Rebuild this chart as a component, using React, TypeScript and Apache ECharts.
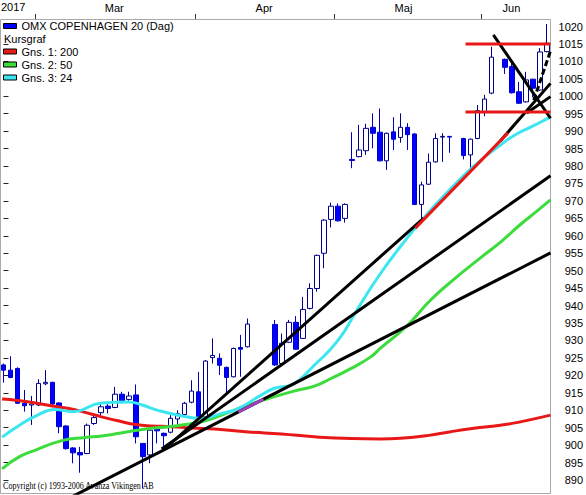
import React, { useEffect, useRef } from 'react';
import * as echarts from 'echarts';

// OHLC per trading slot: [open, close, low, high]; null = no trading
const candles: (number[] | null)[] = [
  [923.0, 921.5, 917.9, 923.4],
  [921.5, 919.4, 919.2, 925.5],
  [922.0, 912.0, 911.8, 922.3],
  [912.0, 911.3, 909.6, 915.8],
  [911.5, 911.8, 905.8, 914.1],
  [911.5, 917.7, 911.2, 918.9],
  [917.6, 918.0, 917.2, 921.5],
  [918.0, 911.8, 911.5, 918.2],
  [912.1, 905.3, 903.4, 912.3],
  [905.5, 899.0, 898.7, 905.7],
  [899.2, 897.8, 894.8, 899.4],
  [897.9, 897.2, 892.1, 899.5],
  [897.6, 905.7, 897.4, 906.2],
  [906.2, 907.9, 905.8, 909.1],
  [909.3, 911.0, 908.6, 912.0],
  [911.2, 910.5, 909.1, 912.4],
  [910.8, 914.6, 910.6, 916.7],
  [914.6, 912.7, 912.0, 915.3],
  [913.1, 914.1, 912.4, 915.3],
  [914.4, 902.4, 900.5, 917.4],
  [900.5, 896.7, 887.6, 900.6],
  [897.2, 904.3, 894.8, 904.5],
  [904.8, 904.1, 900.5, 905.0],
  [903.4, 902.7, 899.1, 903.6],
  [903.7, 907.7, 903.4, 908.6],
  [907.5, 909.0, 906.0, 910.0],
  [908.8, 912.0, 908.6, 912.4],
  [912.3, 915.5, 912.0, 918.6],
  [915.3, 908.1, 907.9, 921.0],
  [908.1, 924.1, 907.8, 924.4],
  [925.1, 925.7, 923.4, 930.6],
  [924.9, 922.9, 920.1, 926.3],
  [922.3, 919.4, 914.8, 922.5],
  [919.6, 927.7, 919.4, 928.0],
  [928.0, 927.5, 919.6, 931.6],
  [928.2, 934.7, 928.0, 936.3],
  null,
  null,
  null,
  [934.6, 923.0, 922.7, 935.9],
  [923.4, 929.2, 922.9, 932.0],
  [929.5, 935.2, 929.3, 935.9],
  [935.2, 927.5, 927.3, 937.0],
  [930.6, 938.9, 930.4, 942.5],
  [939.2, 944.9, 938.9, 946.4],
  [944.9, 954.4, 944.0, 954.6],
  [955.0, 964.5, 950.7, 964.8],
  [964.7, 968.5, 962.4, 969.5],
  [968.5, 964.3, 964.1, 969.3],
  [965.0, 969.0, 963.8, 969.3],
  [981.9, 981.6, 979.4, 989.7],
  [982.7, 984.6, 982.5, 991.8],
  [984.4, 990.8, 983.2, 992.1],
  [991.1, 989.4, 985.1, 995.1],
  [989.7, 981.5, 981.3, 996.5],
  [981.5, 989.4, 978.9, 989.6],
  [989.8, 987.7, 984.6, 994.0],
  [988.2, 991.1, 986.7, 995.1],
  [991.1, 989.0, 984.6, 992.3],
  [989.2, 969.0, 968.8, 989.4],
  [969.0, 974.6, 965.0, 975.5],
  [974.8, 981.1, 974.6, 983.6],
  [981.2, 987.9, 981.0, 989.4],
  [988.3, 988.5, 981.2, 989.4],
  [988.5, 988.3, 983.8, 988.6],
  null,
  [987.9, 983.0, 981.9, 988.1],
  [983.2, 987.7, 978.9, 987.9],
  [987.9, 995.9, 987.7, 997.5],
  [995.5, 999.2, 994.3, 1000.4],
  [1000.9, 1011.2, 1000.6, 1014.2],
  null,
  [1010.6, 1008.3, 1006.4, 1010.8],
  [1008.5, 1001.0, 1000.8, 1009.9],
  [1001.3, 998.0, 997.8, 1004.1],
  [998.4, 1004.7, 998.2, 1007.0],
  [1004.9, 1002.3, 999.7, 1005.0],
  [1001.8, 1012.7, 1001.6, 1013.8],
  [1012.8, 1015.2, 1012.6, 1020.7],
];

const slots: string[] = candles.map((_, i) => String(i));

// Moving averages: [slot position, value]
const ma200: number[][] = [
  [-0.2, 913.2], [2, 912.8], [4.6, 912.1], [7, 911.2], [9.4, 910.5], [11.3, 909.6],
  [14.1, 908.1], [16.6, 906.9], [19, 905.9], [21.3, 905.5], [24.1, 905.3], [27, 904.9],
  [30.3, 904.6], [35.1, 903.8], [39.9, 903.2], [44.6, 902.4], [49.9, 901.9], [54, 901.8],
  [57, 902.0], [61, 902.8], [64, 903.8], [67, 904.7], [71.3, 905.7], [74, 906.6], [78.5, 908.6],
];
const ma50: number[][] = [
  [-0.2, 893.2], [2.3, 896.7], [4.6, 898.6], [8.4, 901.3], [11.7, 902.2], [14.1, 902.6],
  [16.6, 903.4], [19.9, 904.5], [23.7, 905.3], [25.6, 905.8], [28.4, 906.7], [31.3, 908.6],
  [35.1, 911.5], [38.9, 913.9], [42.3, 915.8], [44.6, 916.9], [47, 919.1], [49.9, 922.0],
  [52.7, 925.3], [54.1, 927.8], [57.8, 934.0], [61.3, 941.6], [64.8, 947.8], [68.4, 953.6],
  [71.5, 958.5], [74.1, 963.1], [76.5, 967.0], [78.5, 970.3],
];
const ma24: number[][] = [
  [-0.2, 902.3], [2.3, 905.7], [4.6, 908.3], [7.4, 910.2], [9.9, 909.6], [14.1, 912.1],
  [18, 912.4], [19.9, 911.5], [22.3, 909.9], [25.1, 908.6], [28.4, 907.7], [31.3, 909.1],
  [33.7, 910.5], [36.6, 913.9], [38.9, 916.3], [41.3, 917.2], [42.7, 919.1], [44.6, 922.9],
  [46.6, 926.8], [48.4, 931.1], [49.9, 935.9], [51.3, 940.6], [54.1, 949.2], [57, 957.0],
  [60.3, 965.1], [64, 973.1], [67.5, 980.0], [71.5, 986.3], [73.4, 988.9], [75.8, 991.3],
  [77.2, 992.7], [78.5, 994.1],
];

// Trend lines: pairs of [slot position, value]
const trendBlack: number[][][] = [
  [[10.0, 885.4], [78.5, 955.1]],
  [[22.7, 898.9], [78.5, 977.2]],
  [[23.4, 899.4], [60.3, 965.1]],
  [[71.3, 987.2], [78.5, 1003.7]],
  [[70.3, 1017.6], [78.5, 993.7]],
  [[75.1, 995.2], [78.5, 999.9]],
];
const trendDashed: number[][][] = [
  [[76.1, 998.9], [78.5, 1013.0]],
];
const trendRed: number[][][] = [
  [[59.1, 962.2], [72.4, 989.5]],
  [[66.3, 1015.0], [78.5, 1015.0]],
  [[66.3, 995.5], [78.5, 995.5]],
];
const trendPurple: number[][][] = [
  [[33.7, 909.5], [37.3, 913.2]],
];

const yTicks: number[] = [
  890, 895, 900, 905, 910, 915, 920, 925, 930, 935, 940, 945, 950, 955,
  960, 965, 970, 975, 980, 985, 990, 995, 1000, 1005, 1010, 1015, 1020,
];
const monthNames: string[] = ['Mar', 'Apr', 'Maj', 'Jun'];
const monthLabelPos: number[] = [15.9, 37.4, 57.4, 72.9];
const monthTickPos: number[] = [4.5, 27.5, 47.5, 68.5];

const FONT = '"Liberation Sans", Arial, sans-serif';
const RED = '#e81818';
const GREEN = '#3cdc3c';
const CYAN = '#3ce6f0';

function seg(points: number[][], color: string, width: number, dashed = false) {
  return {
    type: 'line',
    xAxisIndex: 1,
    yAxisIndex: 0,
    data: points,
    symbol: 'none',
    silent: true,
    z: 5,
    clip: true,
    lineStyle: { color, width, type: dashed ? [6, 3] : 'solid', cap: 'butt' },
  };
}

export default function App() {
  const ref = useRef<HTMLDivElement>(null);
  useEffect(() => {
    if (!ref.current) return;
    const chart = echarts.init(ref.current, undefined, { renderer: 'svg' });
    const option: any = {
      animation: false,
      textStyle: { fontFamily: FONT },
      grid: { left: -2.5, right: 35.5, top: 19, bottom: 1.7, containLabel: false },
      xAxis: [
        { type: 'category', data: slots, boundaryGap: true, show: false },
        {
          type: 'value',
          position: 'top',
          min: -0.5,
          max: 78.5,
          axisLine: { show: false },
          splitLine: { show: false },
          axisTick: { show: true, customValues: monthTickPos, length: 5, lineStyle: { color: '#333' } },
          axisLabel: {
            show: true,
            customValues: monthLabelPos,
            margin: 6,
            fontSize: 11,
            fontFamily: FONT,
            color: '#000',
            formatter: (v: number) => {
              const i = monthLabelPos.findIndex((p) => Math.abs(p - v) < 0.01);
              return i >= 0 ? monthNames[i] : '';
            },
          },
        },
      ],
      yAxis: {
        type: 'value',
        position: 'right',
        min: 886.2,
        max: 1022.15,
        splitLine: { show: false },
        axisLine: { show: false },
        axisTick: { show: true, customValues: yTicks, length: 5, lineStyle: { color: '#222' } },
        axisLabel: {
          customValues: yTicks,
          align: 'right',
          margin: 32.5,
          fontSize: 11,
          fontFamily: FONT,
          color: '#000',
          formatter: (v: number) => String(Math.round(v)),
        },
      },
      legend: [
        {
          left: 3,
          top: 19.5,
          padding: 0,
          orient: 'vertical',
          icon: 'rect',
          itemWidth: 13,
          itemHeight: 5,
          selectedMode: false,
          textStyle: { fontSize: 11, lineHeight: 13, color: '#000', fontFamily: FONT },
          data: [
            { name: 'OMX COPENHAGEN 20 (Dag)', itemStyle: { color: '#0000ff', borderColor: '#000', borderWidth: 1 } },
          ],
        },
        {
          left: 3,
          top: 45,
          padding: 0,
          orient: 'vertical',
          icon: 'rect',
          itemWidth: 13,
          itemHeight: 5,
          itemGap: 0,
          selectedMode: false,
          textStyle: { fontSize: 11, lineHeight: 13, color: '#000', fontFamily: FONT },
          data: [
            { name: 'Gns. 1: 200', itemStyle: { color: RED, borderColor: '#000', borderWidth: 1 } },
            { name: 'Gns. 2: 50', itemStyle: { color: GREEN, borderColor: '#000', borderWidth: 1 } },
            { name: 'Gns. 3: 24', itemStyle: { color: CYAN, borderColor: '#000', borderWidth: 1 } },
          ],
        },
      ],
      graphic: [
        {
          type: 'rect',
          silent: true,
          z: 0,
          shape: { x: 0.5, y: 19.5, width: 550, height: 474 },
          style: { fill: 'none', stroke: '#a9a9a9', lineWidth: 1 },
        },
        {
          type: 'text',
          left: 1,
          top: 1,
          silent: true,
          style: { text: '2017', font: `11px ${FONT}`, fill: '#000' },
        },
        {
          type: 'text',
          left: 4,
          top: 33,
          silent: true,
          style: { text: 'Kursgraf', font: `11px ${FONT}`, fill: '#000' },
        },
        {
          type: 'text',
          x: 3,
          y: 481,
          scaleX: 0.81,
          silent: true,
          z: 0,
          style: {
            text: 'Copyright (c) 1993-2006 Avanza Vikingen AB',
            font: '10px "Liberation Serif", "Times New Roman", serif',
            fill: '#000',
          },
        },
      ],
      series: [
        {
          type: 'candlestick',
          name: 'OMX COPENHAGEN 20 (Dag)',
          xAxisIndex: 0,
          yAxisIndex: 0,
          data: candles.map((c) => (c ? c : ['-', '-', '-', '-'])),
          barWidth: 5,
          z: 2,
          itemStyle: {
            color: '#ffffff',
            color0: '#0000ff',
            borderColor: '#00008b',
            borderColor0: '#0000cd',
            borderWidth: 1,
          },
        },
        {
          type: 'line',
          name: 'Gns. 1: 200',
          xAxisIndex: 1,
          yAxisIndex: 0,
          data: ma200,
          smooth: true,
          symbol: 'none',
          z: 3,
          color: RED,
          lineStyle: { color: RED, width: 3 },
        },
        {
          type: 'line',
          name: 'Gns. 2: 50',
          xAxisIndex: 1,
          yAxisIndex: 0,
          data: ma50,
          smooth: true,
          symbol: 'none',
          z: 3,
          color: GREEN,
          lineStyle: { color: GREEN, width: 3 },
        },
        {
          type: 'line',
          name: 'Gns. 3: 24',
          xAxisIndex: 1,
          yAxisIndex: 0,
          data: ma24,
          smooth: true,
          symbol: 'none',
          z: 3,
          color: CYAN,
          lineStyle: { color: CYAN, width: 3 },
        },
        ...trendBlack.map((p) => seg(p, '#000000', 3)),
        ...trendDashed.map((p) => seg(p, '#000000', 3, true)),
        ...trendRed.map((p) => seg(p, RED, 3)),
        ...trendPurple.map((p) => seg(p, '#a040c0', 3)),
      ],
    };
    chart.setOption(option);
    return () => chart.dispose();
  }, []);
  return (
    <div
      ref={ref}
      style={{ position: 'fixed', left: 0, top: 0, width: 586, height: 495, background: '#fff' }}
    />
  );
}
